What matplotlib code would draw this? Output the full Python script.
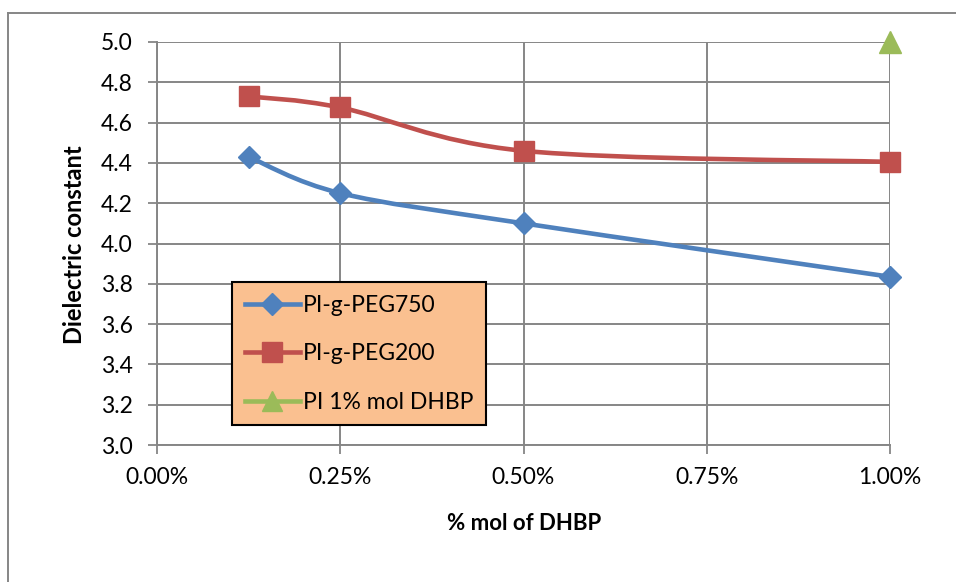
import matplotlib
matplotlib.use("Agg")
import matplotlib.pyplot as plt
import numpy as np
from matplotlib.path import Path
from matplotlib.patches import PathPatch
from matplotlib.lines import Line2D
from matplotlib.ticker import FuncFormatter

plt.rcParams['font.family'] = ['Lato', 'DejaVu Sans']

# Series data (x in % mol of DHBP)
x_peg = [0.125, 0.25, 0.5, 1.0]
peg750 = [4.43, 4.25, 4.10, 3.835]
peg200 = [4.73, 4.675, 4.46, 4.405]
x_pi = [1.0]
pi_dhbp = [5.0]

labels = ['PI-g-PEG750', 'PI-g-PEG200', 'PI 1% mol DHBP']
colors = ['#4F81BD', '#C0504D', '#9BBB59']

x_ticks = [0.0, 0.25, 0.5, 0.75, 1.0]
y_ticks = [3.0, 3.2, 3.4, 3.6, 3.8, 4.0, 4.2, 4.4, 4.6, 4.8, 5.0]

W, H = 956, 582
fig = plt.figure(figsize=(W / 100, H / 100), dpi=100)
ax = fig.add_axes([157 / W, 1 - 445 / H, (890 - 157) / W, (445 - 42) / H])

LW = 3.3


def smooth_path(xs, ys, tension=1/6):
    """Cubic Bezier path through the points (Catmull-Rom style smoothing)."""
    pts = np.column_stack([xs, ys]).astype(float)
    n = len(pts)
    verts = [pts[0]]
    codes = [Path.MOVETO]
    for i in range(n - 1):
        p0 = pts[i - 1] if i > 0 else pts[i]
        p1 = pts[i]
        p2 = pts[i + 1]
        p3 = pts[i + 2] if i + 2 < n else pts[i + 1]
        c1 = p1 + (p2 - p0) * tension
        c2 = p2 - (p3 - p1) * tension
        verts += [c1, c2, p2]
        codes += [Path.CURVE4] * 3
    return Path(verts, codes)


def draw_smooth(xs, ys, color):
    # smoothing is done in display space so the curve shape is independent of axis units
    disp = ax.transData.transform(np.column_stack([xs, ys]))
    path = smooth_path(disp[:, 0], disp[:, 1])
    patch = PathPatch(path, transform=None, facecolor='none', edgecolor=color,
                      lw=LW, capstyle='round', joinstyle='round', zorder=3)
    ax.add_artist(patch)


ax.set_xlim(0, 1.0)
ax.set_ylim(3.0, 5.0)
fig.canvas.draw()

draw_smooth(x_peg, peg750, colors[0])
draw_smooth(x_peg, peg200, colors[1])

ax.plot(x_peg, peg750, linestyle='none', marker='D', ms=11.5, color=colors[0],
        mec=colors[0], zorder=4, clip_on=False)
ax.plot(x_peg, peg200, linestyle='none', marker='s', ms=14, color=colors[1],
        mec=colors[1], zorder=4, clip_on=False)
ax.plot(x_pi, pi_dhbp, linestyle='none', marker='^', ms=16, color=colors[2],
        mec=colors[2], zorder=4, clip_on=False)

ax.set_xticks(x_ticks)
ax.set_yticks(y_ticks)
ax.xaxis.set_major_formatter(FuncFormatter(lambda v, p: f"{v:.2f}%"))
ax.yaxis.set_major_formatter(FuncFormatter(lambda v, p: f"{v:.1f}"))
ax.tick_params(axis='both', labelsize=16.5, color='#868686', length=6.5, width=1.3,
               direction='out')
ax.tick_params(axis='y', pad=11)
ax.tick_params(axis='x', pad=9)
ax.grid(True, color='#868686', lw=1.4)
ax.set_axisbelow(True)
for side in ['top', 'right']:
    ax.spines[side].set_visible(False)
for side in ['left', 'bottom']:
    ax.spines[side].set_color('#868686')
    ax.spines[side].set_linewidth(1.4)

ax.set_ylabel('Dielectric constant', fontsize=17, fontweight='bold')
ax.set_xlabel('% mol of DHBP', fontsize=16, fontweight='bold')
ax.yaxis.set_label_coords(74 / W, 1 - 245 / H, transform=fig.transFigure)
ax.xaxis.set_label_coords(524 / W, 1 - 524 / H, transform=fig.transFigure)
ax.xaxis.label.set_va('center')
ax.yaxis.label.set_va('center')

handles = [
    Line2D([], [], color=colors[0], lw=LW, marker='D', ms=11.5),
    Line2D([], [], color=colors[1], lw=LW, marker='s', ms=14),
    Line2D([], [], color=colors[2], lw=LW, marker='^', ms=14),
]
leg = ax.legend(handles, labels, loc='upper left',
                bbox_to_anchor=(232 / W, 1 - 282 / H),
                bbox_transform=fig.transFigure,
                fontsize=16.5, frameon=True, fancybox=False, framealpha=1,
                facecolor='#FAC090', edgecolor='black', handlelength=2.4,
                handletextpad=0.15, labelspacing=1.2, borderpad=0.55,
                borderaxespad=0)
leg.get_frame().set_linewidth(1.5)

# outer chart border
fig.add_artist(Line2D([8 / W, 8 / W], [0, 1 - 13 / H], transform=fig.transFigure,
                      color='#868686', lw=1.4))
fig.add_artist(Line2D([8 / W, 1], [1 - 13 / H, 1 - 13 / H], transform=fig.transFigure,
                      color='#868686', lw=1.4))

fig.savefig('out.png', dpi=100)
